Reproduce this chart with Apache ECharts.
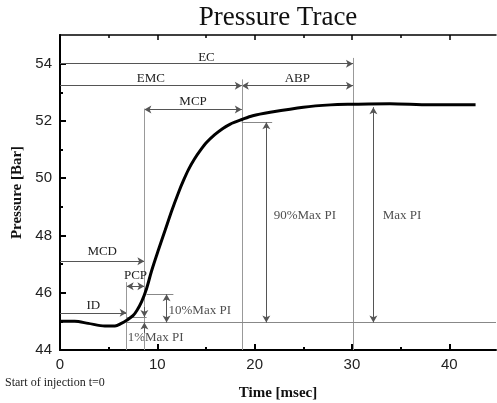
<!DOCTYPE html>
<html>
<head>
<meta charset="utf-8">
<script src="https://cdn.jsdelivr.net/npm/echarts@6/dist/echarts.min.js"></script>
<style>
  html, body { margin: 0; padding: 0; background: #fff; }
  #chart { width: 497px; height: 403px; }
</style>
</head>
<body>
<div id="chart"></div>
<script>
// 压力曲线数据 (时间 msec, 压力 Bar)
var timeData = [0, 1.5, 2.9, 4.6, 5.65, 6.3, 6.9, 7.5, 7.9, 8.4, 8.9, 9.4, 10.1, 10.8, 11.5, 12.2, 12.7, 13.2, 13.8, 14.4, 15.1, 15.9, 16.7, 17.5, 18.7, 19.8, 21.6, 25, 27.8, 30, 33.9, 38, 42.7];
var pressureData = [45.0, 45.0, 44.93, 44.84, 44.84, 44.93, 45.05, 45.2, 45.38, 45.7, 46.15, 46.75, 47.48, 48.18, 48.88, 49.52, 49.93, 50.3, 50.66, 50.96, 51.26, 51.52, 51.73, 51.89, 52.05, 52.18, 52.3, 52.48, 52.56, 52.58, 52.6, 52.56, 52.56];

// 刻度
var xMajorTicks = [0, 10, 20, 30, 40];
var xMinorTicks = [5, 15, 25, 35];
var yMajorTicks = [44, 46, 48, 50, 52, 54];
var yMinorTicks = [45, 47, 49, 51, 53];

// 标注时刻 / 压力水平
var tID = 6.85, tPCP = 8.67, tEMC = 18.68, tEC = 30.1;
var pBase = 44.96, p1 = 45.15, p10 = 45.95, p90 = 51.95, pMax = 52.48;

// 水平箭头: [名称, 起点t, 终点t, 压力, 双箭头, 文字距离]
var spanArrows = [
    ['EC', 0, tEC, 54.0, false, 0],
    ['EMC', 0, tEMC, 53.23, false, 1],
    ['ABP', tEMC, tEC, 53.23, true, 1],
    ['MCP', tPCP, tEMC, 52.4, true, 1],
    ['MCD', 0, tPCP, 47.1, false, 3],
    ['PCP', tID, tPCP, 46.23, true, 4],
    ['ID', 0, tID, 45.3, false, 1]
];

// 垂直辅助线: [t, 上端压力]
var guideLines = [
    [tID, 46.37],
    [tPCP, 52.43],
    [tEMC, 53.45],
    [tEC, 54.2]
];

// 水平参考线: [起点t, 终点t, 压力]
var levelLines = [
    [tID, 44.8, pBase],
    [tID, 8.9, p1],
    [8.9, 11.65, p10],
    [tEMC, 21.8, p90]
];

// 垂直双箭头: [t, 上, 下]
var levelArrows = [
    [10.95, p10, pBase],
    [21.2, p90, pBase],
    [32.2, pMax, pBase]
];

// 文字标注: [文字, t, 压力]
var noteTexts = [
    ['90%Max PI', 21.9, 48.7],
    ['Max PI', 33.1, 48.7],
    ['10%Max PI', 11.1, 45.39],
    ['1%Max PI', 6.9, 44.45]
];

var serif = '"Liberation Serif", "Times New Roman", serif';
var sans = '"Liberation Sans", Arial, sans-serif';

var markData = [];
spanArrows.forEach(function (a) {
    markData.push([
        {coord: [a[1], a[3]], symbol: a[4] ? 'arrow' : 'none', name: a[0],
         label: {show: true, position: 'middle', formatter: a[0], distance: a[5],
                 fontFamily: serif, fontSize: 13, color: '#222'}},
        {coord: [a[2], a[3]], symbol: 'arrow'}
    ]);
});
guideLines.forEach(function (g) {
    markData.push([
        {coord: [g[0], g[1]], symbol: 'none', lineStyle: {color: '#999', width: 1}},
        {coord: [g[0], 44], symbol: 'none'}
    ]);
});
levelLines.forEach(function (l) {
    markData.push([
        {coord: [l[0], l[2]], symbol: 'none', lineStyle: {color: '#888', width: 1}},
        {coord: [l[1], l[2]], symbol: 'none'}
    ]);
});
levelArrows.forEach(function (v) {
    markData.push([
        {coord: [v[0], v[1]], symbol: 'arrow'},
        {coord: [v[0], v[2]], symbol: 'arrow'}
    ]);
});
// 1% Max PI 小箭头
markData.push([{coord: [tPCP, 45.5], symbol: 'none'}, {coord: [tPCP, p1], symbol: 'arrow'}]);
markData.push([{coord: [tPCP, 44.6], symbol: 'none'}, {coord: [tPCP, pBase], symbol: 'arrow'}]);

var chart = echarts.init(document.getElementById('chart'));
var option = {
    animation: false,
    title: {
        text: 'Pressure Trace',
        left: 278,
        textAlign: 'center',
        top: 4,
        padding: 0,
        textStyle: {fontFamily: serif, fontWeight: 'normal', fontSize: 27, color: '#111'}
    },
    grid: {left: 60, right: 1, top: 35, bottom: 53, outerBoundsMode: 'none'},
    xAxis: [
        {
            type: 'value', min: 0, max: 44.8, interval: 10, position: 'bottom',
            name: 'Time [msec]', nameLocation: 'middle', nameGap: 36,
            nameTextStyle: {fontFamily: serif, fontWeight: 'bold', fontSize: 15, color: '#111'},
            axisLine: {show: true, lineStyle: {color: '#000', width: 2}},
            axisTick: {inside: true, length: 6, customValues: xMajorTicks, lineStyle: {color: '#000', width: 2}},
            axisLabel: {customValues: xMajorTicks, margin: 7, fontFamily: sans, fontSize: 15, color: '#222'},
            splitLine: {show: false}
        },
        {
            type: 'value', min: 0, max: 44.8, position: 'bottom',
            axisLine: {show: false},
            axisTick: {inside: true, length: 3, customValues: xMinorTicks, lineStyle: {color: '#000', width: 2}},
            axisLabel: {show: false},
            splitLine: {show: false}
        },
        {
            type: 'value', min: 0, max: 44.8, position: 'top',
            axisLine: {show: true, lineStyle: {color: '#000', width: 1.5}},
            axisTick: {inside: true, length: 5, customValues: [10, 20, 30, 40], lineStyle: {color: '#000', width: 1.5}},
            axisLabel: {show: false},
            splitLine: {show: false}
        },
        {
            type: 'value', min: 0, max: 44.8, position: 'top',
            axisLine: {show: false},
            axisTick: {inside: true, length: 3, customValues: xMinorTicks, lineStyle: {color: '#000', width: 1.5}},
            axisLabel: {show: false},
            splitLine: {show: false}
        }
    ],
    yAxis: [
        {
            type: 'value', min: 44, max: 55, interval: 2, position: 'left',
            name: 'Pressure [Bar]', nameLocation: 'middle', nameGap: 34, nameRotate: 90,
            nameTextStyle: {fontFamily: serif, fontWeight: 'bold', fontSize: 15, color: '#111'},
            axisLine: {show: true, lineStyle: {color: '#000', width: 2}},
            axisTick: {inside: true, length: 6, customValues: yMajorTicks, lineStyle: {color: '#000', width: 2}},
            axisLabel: {customValues: yMajorTicks, margin: 8, fontFamily: sans, fontSize: 15, color: '#222'},
            splitLine: {show: false}
        },
        {
            type: 'value', min: 44, max: 55, position: 'left',
            axisLine: {show: false},
            axisTick: {inside: true, length: 3, customValues: yMinorTicks, lineStyle: {color: '#000', width: 2}},
            axisLabel: {show: false},
            splitLine: {show: false}
        },
        {
            type: 'value', min: 44, max: 55, position: 'right',
            axisLine: {show: true, lineStyle: {color: '#000', width: 1.5}},
            axisTick: {show: false},
            axisLabel: {show: false},
            splitLine: {show: false}
        }
    ],
    graphic: [{
        type: 'text', left: 5, top: 377,
        style: {text: 'Start of injection t=0', font: '12px ' + serif, fill: '#222'}
    }],
    series: [
        {
            // 标注线
            type: 'line',
            data: [],
            silent: true,
            z: 1,
            markLine: {
                silent: true,
                animation: false,
                symbolSize: [6, 7],
                label: {show: false},
                lineStyle: {color: '#555', width: 1, type: 'solid'},
                emphasis: {disabled: true},
                data: markData
            }
        },
        {
            name: 'Pressure',
            type: 'line',
            data: timeData.map(function (t, i) { return [t, pressureData[i]]; }),
            smooth: 0.3,
            showSymbol: false,
            lineStyle: {color: '#000', width: 3},
            z: 5
        },
        {
            // 文字标注
            type: 'scatter',
            silent: true,
            symbolSize: 1,
            itemStyle: {color: 'rgba(0,0,0,0)'},
            label: {
                show: true, position: 'right', distance: 0,
                formatter: function (p) { return p.data[2]; },
                fontFamily: serif, fontSize: 13, color: '#222'
            },
            data: noteTexts.map(function (n) { return [n[1], n[2], n[0]]; })
        }
    ]
};
chart.setOption(option);
</script>
</body>
</html>
